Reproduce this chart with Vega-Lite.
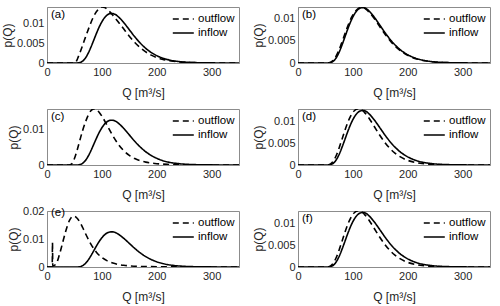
{
  "$schema": "https://vega.github.io/schema/vega-lite/v6.json",
  "padding": {"left": 0, "top": 6, "right": 6, "bottom": 2},
  "background": "white",
  "config": {
    "font": "Liberation Sans",
    "view": {"stroke": "#8c8c8c", "strokeWidth": 1},
    "axis": {"labelFont": "Liberation Sans", "labelFontSize": 11, "labelColor": "#262626", "titleFont": "Liberation Sans", "titleFontSize": 12, "titleFontWeight": "normal", "titleColor": "#262626", "domainColor": "#8c8c8c", "ticks": false, "grid": false, "labelPadding": 3, "titlePadding": 2, "labelOverlap": false, "labelBound": false, "labelFlush": false, "tickCount": 8},
    "axisX": {"titlePadding": 10},
    "legend": {"orient": "top-right", "offset": 4, "padding": 0, "title": null, "labelFont": "Liberation Sans", "labelFontSize": 11.5, "labelColor": "#000", "symbolType": "M-1.6,0H1.4", "symbolStrokeWidth": 1.6, "symbolStrokeColor": "black", "symbolSize": 196, "rowPadding": 0, "labelOffset": 6},
    "title": {"anchor": "start", "frame": "group", "offset": -13, "dx": 4, "font": "Liberation Sans", "fontSize": 11.5, "fontWeight": "normal", "color": "#000"}
  },
  "datasets": {
    "inflow": [
      {"Q": 0, "p": 0}, {"Q": 50, "p": 0}, {"Q": 55, "p": 0.00001}, {"Q": 60, "p": 0.0001}, {"Q": 65, "p": 0.00048},
      {"Q": 70, "p": 0.00125}, {"Q": 75, "p": 0.00245}, {"Q": 80, "p": 0.004}, {"Q": 85, "p": 0.00571}, {"Q": 90, "p": 0.00746},
      {"Q": 95, "p": 0.00908}, {"Q": 100, "p": 0.01044}, {"Q": 105, "p": 0.0115}, {"Q": 110, "p": 0.01219}, {"Q": 115, "p": 0.01252},
      {"Q": 117.5, "p": 0.01256}, {"Q": 120, "p": 0.01253}, {"Q": 125, "p": 0.01228}, {"Q": 130, "p": 0.01172}, {"Q": 135, "p": 0.01103},
      {"Q": 140, "p": 0.01023}, {"Q": 150, "p": 0.00844}, {"Q": 160, "p": 0.00665}, {"Q": 170, "p": 0.00505}, {"Q": 180, "p": 0.00371},
      {"Q": 190, "p": 0.00266}, {"Q": 200, "p": 0.00187}, {"Q": 210, "p": 0.00128}, {"Q": 220, "p": 0.00086}, {"Q": 230, "p": 0.00057},
      {"Q": 240, "p": 0.00038}, {"Q": 250, "p": 0.00024}, {"Q": 260, "p": 0.000155}, {"Q": 270, "p": 0.0001}, {"Q": 280, "p": 0.00006},
      {"Q": 300, "p": 0.000025}, {"Q": 320, "p": 0.00001}, {"Q": 350, "p": 0.000002}
    ],
    "outflow": [
      {"panel": "a", "Q": 0, "p": 0}, {"panel": "a", "Q": 50, "p": 0}, {"panel": "a", "Q": 53, "p": 0.0003}, {"panel": "a", "Q": 56, "p": 0.0012},
      {"panel": "a", "Q": 60, "p": 0.0026}, {"panel": "a", "Q": 65, "p": 0.0045}, {"panel": "a", "Q": 70, "p": 0.0065}, {"panel": "a", "Q": 75, "p": 0.0084},
      {"panel": "a", "Q": 80, "p": 0.0102}, {"panel": "a", "Q": 85, "p": 0.0118}, {"panel": "a", "Q": 90, "p": 0.013}, {"panel": "a", "Q": 95, "p": 0.0138},
      {"panel": "a", "Q": 100, "p": 0.0142}, {"panel": "a", "Q": 105, "p": 0.0141}, {"panel": "a", "Q": 110, "p": 0.0136}, {"panel": "a", "Q": 115, "p": 0.0129},
      {"panel": "a", "Q": 120, "p": 0.0121}, {"panel": "a", "Q": 130, "p": 0.0104}, {"panel": "a", "Q": 140, "p": 0.0086}, {"panel": "a", "Q": 150, "p": 0.0068},
      {"panel": "a", "Q": 160, "p": 0.0052}, {"panel": "a", "Q": 170, "p": 0.0039}, {"panel": "a", "Q": 180, "p": 0.0028}, {"panel": "a", "Q": 190, "p": 0.002},
      {"panel": "a", "Q": 200, "p": 0.0014}, {"panel": "a", "Q": 210, "p": 0.00095}, {"panel": "a", "Q": 220, "p": 0.00065}, {"panel": "a", "Q": 230, "p": 0.00044},
      {"panel": "a", "Q": 240, "p": 0.0003}, {"panel": "a", "Q": 250, "p": 0.0002}, {"panel": "a", "Q": 270, "p": 0.00009}, {"panel": "a", "Q": 290, "p": 0.00004},
      {"panel": "a", "Q": 320, "p": 0.00001}, {"panel": "a", "Q": 350, "p": 0},

      {"panel": "b", "Q": 0, "p": 0}, {"panel": "b", "Q": 48, "p": 0}, {"panel": "b", "Q": 53, "p": 0.00001}, {"panel": "b", "Q": 58, "p": 0.0001},
      {"panel": "b", "Q": 63, "p": 0.00048}, {"panel": "b", "Q": 68, "p": 0.00125}, {"panel": "b", "Q": 73, "p": 0.00245}, {"panel": "b", "Q": 78, "p": 0.004},
      {"panel": "b", "Q": 83, "p": 0.00571}, {"panel": "b", "Q": 88, "p": 0.00746}, {"panel": "b", "Q": 93, "p": 0.00908}, {"panel": "b", "Q": 98, "p": 0.01044},
      {"panel": "b", "Q": 103, "p": 0.0115}, {"panel": "b", "Q": 108, "p": 0.01219}, {"panel": "b", "Q": 113, "p": 0.01252}, {"panel": "b", "Q": 115.5, "p": 0.01256},
      {"panel": "b", "Q": 118, "p": 0.01253}, {"panel": "b", "Q": 123, "p": 0.01228}, {"panel": "b", "Q": 128, "p": 0.01172}, {"panel": "b", "Q": 133, "p": 0.01103},
      {"panel": "b", "Q": 138, "p": 0.01023}, {"panel": "b", "Q": 148, "p": 0.00844}, {"panel": "b", "Q": 158, "p": 0.00665}, {"panel": "b", "Q": 168, "p": 0.00505},
      {"panel": "b", "Q": 178, "p": 0.00371}, {"panel": "b", "Q": 188, "p": 0.00266}, {"panel": "b", "Q": 198, "p": 0.00187}, {"panel": "b", "Q": 208, "p": 0.00128},
      {"panel": "b", "Q": 218, "p": 0.00086}, {"panel": "b", "Q": 228, "p": 0.00057}, {"panel": "b", "Q": 238, "p": 0.00038}, {"panel": "b", "Q": 248, "p": 0.00024},
      {"panel": "b", "Q": 258, "p": 0.000155}, {"panel": "b", "Q": 268, "p": 0.0001}, {"panel": "b", "Q": 278, "p": 0.00006}, {"panel": "b", "Q": 298, "p": 0.000025},
      {"panel": "b", "Q": 318, "p": 0.00001}, {"panel": "b", "Q": 350, "p": 0.000002},

      {"panel": "c", "Q": 0, "p": 0}, {"panel": "c", "Q": 40, "p": 0}, {"panel": "c", "Q": 45, "p": 0.0003}, {"panel": "c", "Q": 50, "p": 0.0018},
      {"panel": "c", "Q": 55, "p": 0.0042}, {"panel": "c", "Q": 60, "p": 0.007}, {"panel": "c", "Q": 65, "p": 0.0097}, {"panel": "c", "Q": 70, "p": 0.012},
      {"panel": "c", "Q": 75, "p": 0.0139}, {"panel": "c", "Q": 80, "p": 0.0152}, {"panel": "c", "Q": 85, "p": 0.0157}, {"panel": "c", "Q": 90, "p": 0.0155},
      {"panel": "c", "Q": 95, "p": 0.0148}, {"panel": "c", "Q": 100, "p": 0.0137}, {"panel": "c", "Q": 105, "p": 0.0124}, {"panel": "c", "Q": 110, "p": 0.011},
      {"panel": "c", "Q": 120, "p": 0.0082}, {"panel": "c", "Q": 130, "p": 0.0058}, {"panel": "c", "Q": 140, "p": 0.004}, {"panel": "c", "Q": 150, "p": 0.0027},
      {"panel": "c", "Q": 160, "p": 0.0018}, {"panel": "c", "Q": 170, "p": 0.0012}, {"panel": "c", "Q": 180, "p": 0.0008}, {"panel": "c", "Q": 190, "p": 0.00055},
      {"panel": "c", "Q": 200, "p": 0.00037}, {"panel": "c", "Q": 220, "p": 0.00017}, {"panel": "c", "Q": 240, "p": 0.00008}, {"panel": "c", "Q": 260, "p": 0.00004},
      {"panel": "c", "Q": 300, "p": 0.00001}, {"panel": "c", "Q": 350, "p": 0},

      {"panel": "d", "Q": 0, "p": 0}, {"panel": "d", "Q": 50, "p": 0}, {"panel": "d", "Q": 52.5, "p": 0.00001}, {"panel": "d", "Q": 57.1, "p": 0.0001},
      {"panel": "d", "Q": 61.7, "p": 0.00049}, {"panel": "d", "Q": 66.3, "p": 0.00129}, {"panel": "d", "Q": 70.9, "p": 0.00252}, {"panel": "d", "Q": 75.5, "p": 0.00412},
      {"panel": "d", "Q": 80.1, "p": 0.00588}, {"panel": "d", "Q": 84.7, "p": 0.00768}, {"panel": "d", "Q": 89.3, "p": 0.00935}, {"panel": "d", "Q": 93.9, "p": 0.01075},
      {"panel": "d", "Q": 98.5, "p": 0.01185}, {"panel": "d", "Q": 103.1, "p": 0.01256}, {"panel": "d", "Q": 107.7, "p": 0.0129}, {"panel": "d", "Q": 110, "p": 0.01294},
      {"panel": "d", "Q": 112.3, "p": 0.01291}, {"panel": "d", "Q": 117, "p": 0.01264}, {"panel": "d", "Q": 121.5, "p": 0.01207}, {"panel": "d", "Q": 126.1, "p": 0.01136},
      {"panel": "d", "Q": 130.7, "p": 0.01054}, {"panel": "d", "Q": 139.9, "p": 0.00869}, {"panel": "d", "Q": 149.1, "p": 0.00685}, {"panel": "d", "Q": 158.3, "p": 0.0052},
      {"panel": "d", "Q": 167.5, "p": 0.00382}, {"panel": "d", "Q": 176.7, "p": 0.00274}, {"panel": "d", "Q": 185.9, "p": 0.00193}, {"panel": "d", "Q": 195.1, "p": 0.00132},
      {"panel": "d", "Q": 204.3, "p": 0.00089}, {"panel": "d", "Q": 213.5, "p": 0.00059}, {"panel": "d", "Q": 222.7, "p": 0.00039}, {"panel": "d", "Q": 231.9, "p": 0.00025},
      {"panel": "d", "Q": 241.1, "p": 0.00016}, {"panel": "d", "Q": 250.3, "p": 0.0001}, {"panel": "d", "Q": 259.5, "p": 0.00006}, {"panel": "d", "Q": 277.9, "p": 0.000026},
      {"panel": "d", "Q": 296.3, "p": 0.00001}, {"panel": "d", "Q": 350, "p": 0},

      {"panel": "e", "Q": 0, "p": 0}, {"panel": "e", "Q": 9.5, "p": 0}, {"panel": "e", "Q": 10, "p": 0.0087}, {"panel": "e", "Q": 10.5, "p": 0.0004},
      {"panel": "e", "Q": 15, "p": 0.0008}, {"panel": "e", "Q": 18, "p": 0.0016}, {"panel": "e", "Q": 22, "p": 0.004}, {"panel": "e", "Q": 26, "p": 0.0068},
      {"panel": "e", "Q": 30, "p": 0.0098}, {"panel": "e", "Q": 34, "p": 0.0127}, {"panel": "e", "Q": 38, "p": 0.0152}, {"panel": "e", "Q": 42, "p": 0.017},
      {"panel": "e", "Q": 46, "p": 0.018}, {"panel": "e", "Q": 50, "p": 0.0181}, {"panel": "e", "Q": 54, "p": 0.0176}, {"panel": "e", "Q": 60, "p": 0.016},
      {"panel": "e", "Q": 65, "p": 0.0141}, {"panel": "e", "Q": 70, "p": 0.012}, {"panel": "e", "Q": 80, "p": 0.0082}, {"panel": "e", "Q": 90, "p": 0.0053},
      {"panel": "e", "Q": 100, "p": 0.0034}, {"panel": "e", "Q": 110, "p": 0.0022}, {"panel": "e", "Q": 120, "p": 0.0014}, {"panel": "e", "Q": 130, "p": 0.0009},
      {"panel": "e", "Q": 140, "p": 0.0006}, {"panel": "e", "Q": 150, "p": 0.0004}, {"panel": "e", "Q": 170, "p": 0.0002}, {"panel": "e", "Q": 200, "p": 0.0001},
      {"panel": "e", "Q": 250, "p": 0.00003}, {"panel": "e", "Q": 350, "p": 0},

      {"panel": "f", "Q": 0, "p": 0}, {"panel": "f", "Q": 50, "p": 0}, {"panel": "f", "Q": 52.5, "p": 0.00001}, {"panel": "f", "Q": 57.1, "p": 0.0001},
      {"panel": "f", "Q": 61.7, "p": 0.00049}, {"panel": "f", "Q": 66.3, "p": 0.00129}, {"panel": "f", "Q": 70.9, "p": 0.00252}, {"panel": "f", "Q": 75.5, "p": 0.00412},
      {"panel": "f", "Q": 80.1, "p": 0.00588}, {"panel": "f", "Q": 84.7, "p": 0.00768}, {"panel": "f", "Q": 89.3, "p": 0.00935}, {"panel": "f", "Q": 93.9, "p": 0.01075},
      {"panel": "f", "Q": 98.5, "p": 0.01185}, {"panel": "f", "Q": 103.1, "p": 0.01256}, {"panel": "f", "Q": 107.7, "p": 0.0129}, {"panel": "f", "Q": 110, "p": 0.01294},
      {"panel": "f", "Q": 112.3, "p": 0.01291}, {"panel": "f", "Q": 117, "p": 0.01264}, {"panel": "f", "Q": 121.5, "p": 0.01207}, {"panel": "f", "Q": 126.1, "p": 0.01136},
      {"panel": "f", "Q": 130.7, "p": 0.01054}, {"panel": "f", "Q": 139.9, "p": 0.00869}, {"panel": "f", "Q": 149.1, "p": 0.00685}, {"panel": "f", "Q": 158.3, "p": 0.0052},
      {"panel": "f", "Q": 167.5, "p": 0.00382}, {"panel": "f", "Q": 176.7, "p": 0.00274}, {"panel": "f", "Q": 185.9, "p": 0.00193}, {"panel": "f", "Q": 195.1, "p": 0.00132},
      {"panel": "f", "Q": 204.3, "p": 0.00089}, {"panel": "f", "Q": 213.5, "p": 0.00059}, {"panel": "f", "Q": 222.7, "p": 0.00039}, {"panel": "f", "Q": 231.9, "p": 0.00025},
      {"panel": "f", "Q": 241.1, "p": 0.00016}, {"panel": "f", "Q": 250.3, "p": 0.0001}, {"panel": "f", "Q": 259.5, "p": 0.00006}, {"panel": "f", "Q": 277.9, "p": 0.000026},
      {"panel": "f", "Q": 296.3, "p": 0.00001}, {"panel": "f", "Q": 350, "p": 0}
    ]
  },
  "columns": 2,
  "spacing": {"row": 46, "column": 59},
  "bounds": "flush",
  "resolve": {"scale": {"y": "independent"}, "legend": {"strokeDash": "independent"}},
  "concat": [
    {
      "width": 192, "height": 56, "title": "(a)",
      "layer": [
        {"data": {"name": "inflow"}, "mark": {"type": "line", "color": "black", "strokeWidth": 1.6, "interpolate": "monotone", "clip": true},
         "encoding": {
           "x": {"field": "Q", "type": "quantitative", "scale": {"domain": [0, 350], "nice": false}, "axis": {"values": [0, 100, 200, 300], "title": "Q [m³/s]", "tickCount": 8}},
           "y": {"field": "p", "type": "quantitative", "scale": {"domain": [0, 0.0142], "nice": false}, "axis": {"values": [0, 0.005, 0.01], "format": "~g", "title": "p(Q)", "tickCount": 8}},
           "strokeDash": {"datum": "inflow", "scale": {"domain": ["outflow", "inflow"], "range": [[6, 4], [1, 0]]}}}},
        {"data": {"name": "outflow"}, "transform": [{"filter": "datum.panel == 'a'"}], "mark": {"type": "line", "color": "black", "strokeWidth": 1.6, "interpolate": "monotone", "clip": true},
         "encoding": {"x": {"field": "Q", "type": "quantitative"}, "y": {"field": "p", "type": "quantitative"}, "strokeDash": {"datum": "outflow"}}}
      ]
    },
    {
      "width": 192, "height": 56, "title": "(b)",
      "layer": [
        {"data": {"name": "inflow"}, "mark": {"type": "line", "color": "black", "strokeWidth": 1.6, "interpolate": "monotone", "clip": true},
         "encoding": {
           "x": {"field": "Q", "type": "quantitative", "scale": {"domain": [0, 350], "nice": false}, "axis": {"values": [0, 100, 200, 300], "title": "Q [m³/s]", "tickCount": 8}},
           "y": {"field": "p", "type": "quantitative", "scale": {"domain": [0, 0.0127], "nice": false}, "axis": {"values": [0, 0.005, 0.01], "format": "~g", "title": "p(Q)", "tickCount": 8}},
           "strokeDash": {"datum": "inflow", "scale": {"domain": ["outflow", "inflow"], "range": [[6, 4], [1, 0]]}}}},
        {"data": {"name": "outflow"}, "transform": [{"filter": "datum.panel == 'b'"}], "mark": {"type": "line", "color": "black", "strokeWidth": 1.6, "interpolate": "monotone", "clip": true},
         "encoding": {"x": {"field": "Q", "type": "quantitative"}, "y": {"field": "p", "type": "quantitative"}, "strokeDash": {"datum": "outflow"}}}
      ]
    },
    {
      "width": 192, "height": 56, "title": "(c)",
      "layer": [
        {"data": {"name": "inflow"}, "mark": {"type": "line", "color": "black", "strokeWidth": 1.6, "interpolate": "monotone", "clip": true},
         "encoding": {
           "x": {"field": "Q", "type": "quantitative", "scale": {"domain": [0, 350], "nice": false}, "axis": {"values": [0, 100, 200, 300], "title": "Q [m³/s]", "tickCount": 8}},
           "y": {"field": "p", "type": "quantitative", "scale": {"domain": [0, 0.0157], "nice": false}, "axis": {"values": [0, 0.01], "format": "~g", "title": "p(Q)", "tickCount": 8}},
           "strokeDash": {"datum": "inflow", "scale": {"domain": ["outflow", "inflow"], "range": [[6, 4], [1, 0]]}}}},
        {"data": {"name": "outflow"}, "transform": [{"filter": "datum.panel == 'c'"}], "mark": {"type": "line", "color": "black", "strokeWidth": 1.6, "interpolate": "monotone", "clip": true},
         "encoding": {"x": {"field": "Q", "type": "quantitative"}, "y": {"field": "p", "type": "quantitative"}, "strokeDash": {"datum": "outflow"}}}
      ]
    },
    {
      "width": 192, "height": 56, "title": "(d)",
      "layer": [
        {"data": {"name": "inflow"}, "mark": {"type": "line", "color": "black", "strokeWidth": 1.6, "interpolate": "monotone", "clip": true},
         "encoding": {
           "x": {"field": "Q", "type": "quantitative", "scale": {"domain": [0, 350], "nice": false}, "axis": {"values": [0, 100, 200, 300], "title": "Q [m³/s]", "tickCount": 8}},
           "y": {"field": "p", "type": "quantitative", "scale": {"domain": [0, 0.0129], "nice": false}, "axis": {"values": [0, 0.005, 0.01], "format": "~g", "title": "p(Q)", "tickCount": 8}},
           "strokeDash": {"datum": "inflow", "scale": {"domain": ["outflow", "inflow"], "range": [[6, 4], [1, 0]]}}}},
        {"data": {"name": "outflow"}, "transform": [{"filter": "datum.panel == 'd'"}], "mark": {"type": "line", "color": "black", "strokeWidth": 1.6, "interpolate": "monotone", "clip": true},
         "encoding": {"x": {"field": "Q", "type": "quantitative"}, "y": {"field": "p", "type": "quantitative"}, "strokeDash": {"datum": "outflow"}}}
      ]
    },
    {
      "width": 192, "height": 56, "title": "(e)",
      "layer": [
        {"data": {"name": "inflow"}, "mark": {"type": "line", "color": "black", "strokeWidth": 1.6, "interpolate": "monotone", "clip": true},
         "encoding": {
           "x": {"field": "Q", "type": "quantitative", "scale": {"domain": [0, 350], "nice": false}, "axis": {"values": [0, 100, 200, 300], "title": "Q [m³/s]", "tickCount": 8}},
           "y": {"field": "p", "type": "quantitative", "scale": {"domain": [0, 0.02], "nice": false}, "axis": {"values": [0, 0.01, 0.02], "format": "~g", "title": "p(Q)", "tickCount": 8}},
           "strokeDash": {"datum": "inflow", "scale": {"domain": ["outflow", "inflow"], "range": [[6, 4], [1, 0]]}}}},
        {"data": {"name": "outflow"}, "transform": [{"filter": "datum.panel == 'e'"}], "mark": {"type": "line", "color": "black", "strokeWidth": 1.6, "interpolate": "monotone", "clip": true},
         "encoding": {"x": {"field": "Q", "type": "quantitative"}, "y": {"field": "p", "type": "quantitative"}, "strokeDash": {"datum": "outflow"}}}
      ]
    },
    {
      "width": 192, "height": 56, "title": "(f)",
      "layer": [
        {"data": {"name": "inflow"}, "mark": {"type": "line", "color": "black", "strokeWidth": 1.6, "interpolate": "monotone", "clip": true},
         "encoding": {
           "x": {"field": "Q", "type": "quantitative", "scale": {"domain": [0, 350], "nice": false}, "axis": {"values": [0, 100, 200, 300], "title": "Q [m³/s]", "tickCount": 8}},
           "y": {"field": "p", "type": "quantitative", "scale": {"domain": [0, 0.0129], "nice": false}, "axis": {"values": [0, 0.005, 0.01], "format": "~g", "title": "p(Q)", "tickCount": 8}},
           "strokeDash": {"datum": "inflow", "scale": {"domain": ["outflow", "inflow"], "range": [[6, 4], [1, 0]]}}}},
        {"data": {"name": "outflow"}, "transform": [{"filter": "datum.panel == 'f'"}], "mark": {"type": "line", "color": "black", "strokeWidth": 1.6, "interpolate": "monotone", "clip": true},
         "encoding": {"x": {"field": "Q", "type": "quantitative"}, "y": {"field": "p", "type": "quantitative"}, "strokeDash": {"datum": "outflow"}}}
      ]
    }
  ]
}
